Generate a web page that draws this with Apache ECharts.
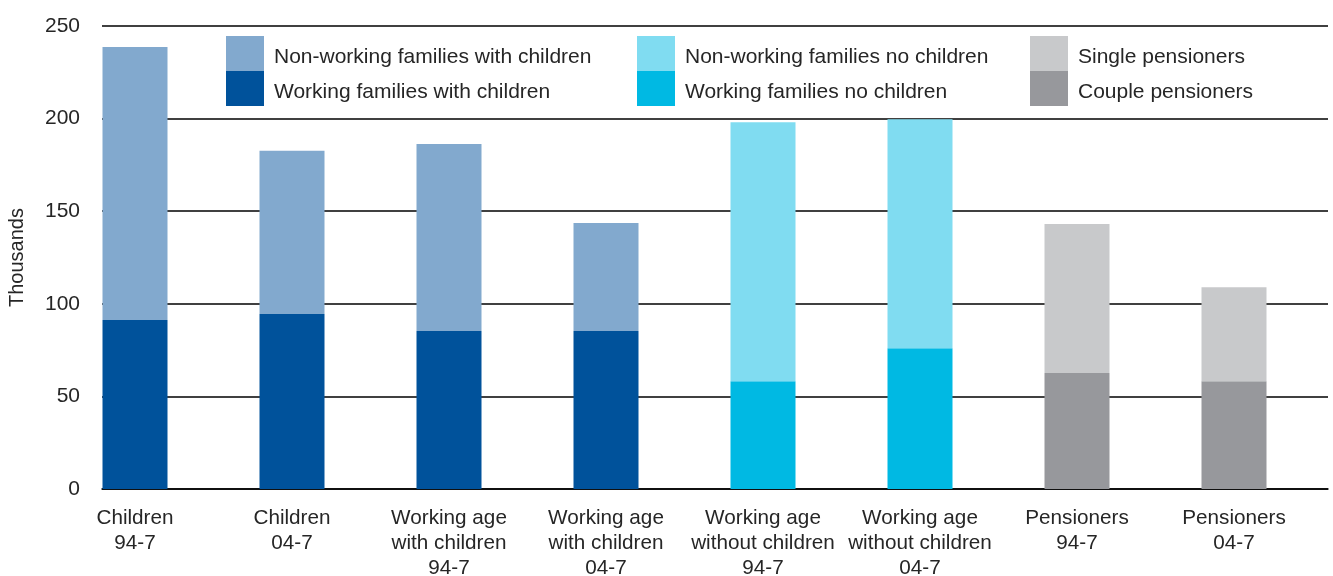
<!DOCTYPE html>
<html>
<head>
<meta charset="utf-8">
<script src="https://cdn.jsdelivr.net/npm/echarts@6/dist/echarts.min.js"></script>
<style>html,body{margin:0;padding:0;background:#fff}#c{width:1333px;height:576px}</style>
</head>
<body>
<div id="c"></div>
<script>
const categories = ['Children\n94-7','Children\n04-7','Working age\nwith children\n94-7','Working age\nwith children\n04-7','Working age\nwithout children\n94-7','Working age\nwithout children\n04-7','Pensioners\n94-7','Pensioners\n04-7'];
const workingWithChildren    = [91.3, 94.5, 85.3, 85.3, null, null, null, null];
const nonWorkingWithChildren = [147.4, 88.1, 101.0, 58.3, null, null, null, null];
const workingNoChildren      = [null, null, null, null, 58.2, 76.0, null, null];
const nonWorkingNoChildren   = [null, null, null, null, 139.8, 123.7, null, null];
const couplePensioners       = [null, null, null, null, null, null, 62.6, 58.2];
const singlePensioners       = [null, null, null, null, null, null, 80.5, 50.8];
const yTicks = {min: 0, max: 250, interval: 50};

const FONT = 'Liberation Sans';
const TXT = '#262626';
const chart = echarts.init(document.getElementById('c'));
function bar(name, data, color) {
  return {name, type:'bar', stack:'s', data, xAxisIndex:0, yAxisIndex:0, barWidth:65,
    itemStyle:{color}, emphasis:{disabled:true}};
}
function legend(left, names) {
  return {left, top:36, orient:'vertical', itemWidth:38, itemHeight:35, itemGap:0, padding:0,
    icon:'rect', selectedMode:false, data:names,
    formatter: n => '{t|' + n + '}',
    textStyle:{fontFamily:FONT, fontSize:21, color:TXT,
      rich:{t:{fontFamily:FONT, fontSize:21, color:TXT, padding:[8,0,0,5]}}}};
}
chart.setOption({
  animation:false,
  legend:[
    legend(226, ['Non-working families with children','Working families with children']),
    legend(637, ['Non-working families no children','Working families no children']),
    legend(1030, ['Single pensioners','Couple pensioners'])
  ],
  grid:[
    {left:56.5, width:1256, top:26, bottom:87, outerBoundsMode:'none', containLabel:false},
    {left:102, right:5, top:26, bottom:87, outerBoundsMode:'none', containLabel:false}
  ],
  xAxis:[
    {type:'category', gridIndex:0, data:categories,
     axisLine:{show:false}, axisTick:{show:false},
     axisLabel:{interval:0, margin:17, fontFamily:FONT, fontSize:20.7, lineHeight:25, color:TXT}},
    {type:'value', gridIndex:1, min:0, max:1,
     axisLine:{show:true, lineStyle:{color:'#000', width:1.5}},
     axisTick:{show:false}, axisLabel:{show:false}, splitLine:{show:false}}
  ],
  yAxis:[
    {type:'value', gridIndex:0, min:yTicks.min, max:yTicks.max, interval:yTicks.interval, show:false},
    {type:'value', gridIndex:1, min:yTicks.min, max:yTicks.max, interval:yTicks.interval,
     axisLine:{show:false}, axisTick:{show:false},
     axisLabel:{margin:22, fontFamily:FONT, fontSize:21, color:TXT},
     splitLine:{lineStyle:{color:'#000', width:1.5}},
     name:'Thousands', nameLocation:'middle', nameRotate:90, nameGap:75,
     nameTextStyle:{fontFamily:FONT, fontSize:20, color:TXT}}
  ],
  series:[
    bar('Working families with children', workingWithChildren, '#00529b'),
    bar('Non-working families with children', nonWorkingWithChildren, '#82a9ce'),
    bar('Working families no children', workingNoChildren, '#00b9e3'),
    bar('Non-working families no children', nonWorkingNoChildren, '#80dcf1'),
    bar('Couple pensioners', couplePensioners, '#97989c'),
    bar('Single pensioners', singlePensioners, '#c8c9cb')
  ]
});
</script>
</body>
</html>
